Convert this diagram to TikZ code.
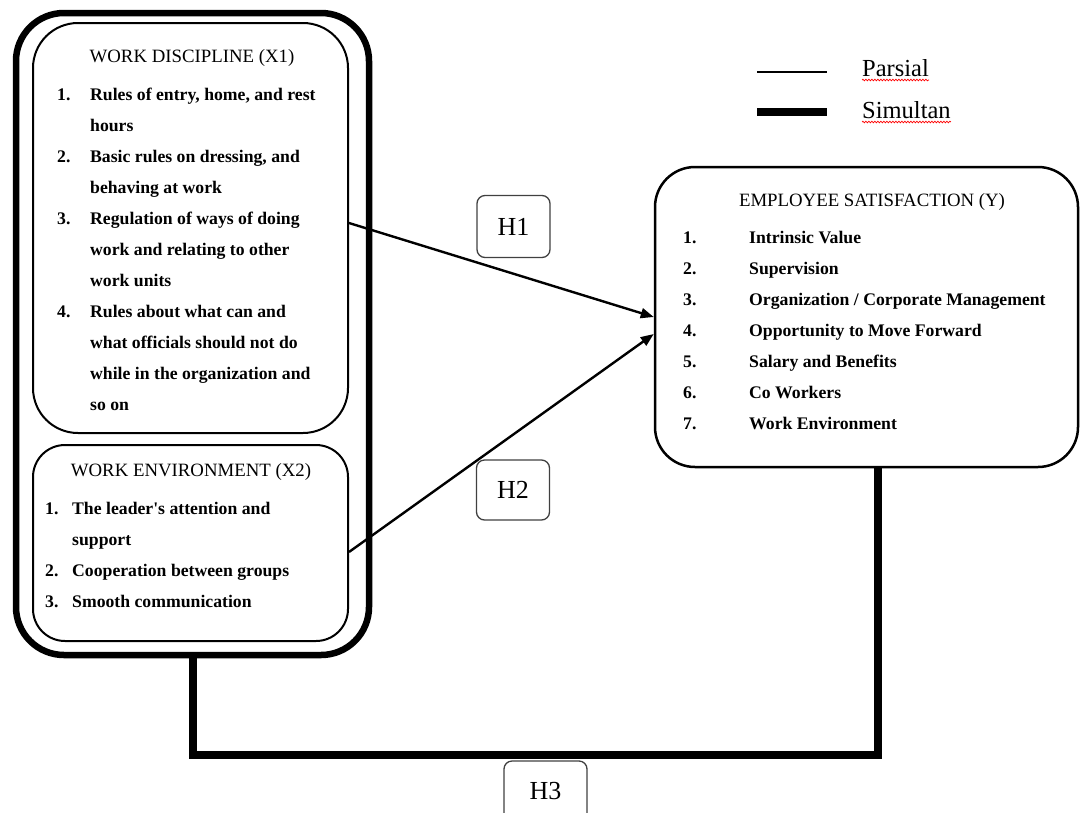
\documentclass[tikz,border=0pt]{standalone}
\usepackage{fontspec}
\setmainfont{Liberation Serif}
\usetikzlibrary{arrows.meta,decorations.pathmorphing}
\begin{document}
\begin{tikzpicture}[x=1pt, y=-1pt,
    box/.style={draw, rounded corners=#1, line width=2pt},
    lst/.style={inner sep=0, anchor=north west, font=\fontsize{17.7}{31}\selectfont\bfseries},
    ttl/.style={inner sep=0, font=\fontsize{18.8}{22}\selectfont},
    hyp/.style={draw=black!75, rounded corners=8pt, line width=1.3pt, minimum width=73pt, minimum height=62pt, font=\fontsize{26}{30}\selectfont},
    leg/.style={inner sep=0, anchor=base west, font=\fontsize{24.5}{28}\selectfont},
    spell/.style={draw=red, line width=0.7pt, decorate, decoration={snake, amplitude=0.8pt, segment length=3pt}},
    parsial/.style={line width=2.4pt},
    simultan/.style={line width=8pt}]
  \useasboundingbox (0,0) rectangle (1082,812);
  \clip (0,0) rectangle (1082,812);

  % independent variables
  \node[box=48pt, line width=6.5pt, minimum width=353pt, minimum height=642pt] (out) at (192.5,334) {};
  \node[box=45pt, minimum width=315pt, minimum height=410pt] (x1) at (190.5,228) {};
  \node[box=32pt, minimum width=315pt, minimum height=196pt] (x2) at (190.5,543) {};
  \node[ttl] (x1t) at (192,58) {WORK DISCIPLINE (X1)};
  \node[lst] (x1l) at (57,79) {\begin{tabular}{@{}p{33pt}@{}l@{}}
      1. & Rules of entry, home, and rest\\
         & hours\\
      2. & Basic rules on dressing, and\\
         & behaving at work\\
      3. & Regulation of ways of doing\\
         & work and relating to other\\
         & work units\\
      4. & Rules about what can and\\
         & what officials should not do\\
         & while in the organization and\\
         & so on
    \end{tabular}};
  \node[ttl] (x2t) at (191,472) {WORK ENVIRONMENT (X2)};
  \node[lst] (x2l) at (45,493) {\begin{tabular}{@{}p{27pt}@{}l@{}}
      1. & The leader\textquotesingle s attention and\\
         & support\\
      2. & Cooperation between groups\\
      3. & Smooth communication
    \end{tabular}};

  % dependent variable
  \node[box=40pt, line width=2.5pt, minimum width=423pt, minimum height=300pt] (y) at (866.5,317) {};
  \node[ttl] (yt) at (872,202) {EMPLOYEE SATISFACTION (Y)};
  \node[lst] (yl) at (683,222) {\begin{tabular}{@{}p{66pt}@{}l@{}}
      1. & Intrinsic Value\\
      2. & Supervision\\
      3. & Organization / Corporate Management\\
      4. & Opportunity to Move Forward\\
      5. & Salary and Benefits\\
      6. & Co Workers\\
      7. & Work Environment
    \end{tabular}};

  % legend
  \coordinate (p1) at (757,72);
  \coordinate (p2) at (827,72);
  \coordinate (s1) at (757,112);
  \coordinate (s2) at (827,112);
  \draw[parsial] (p1) -- (p2);
  \draw[simultan] (s1) -- (s2);
  \node[leg] (par) at (862,76) {Parsial};
  \node[leg] (sim) at (862,118) {Simultan};
  \path[spell] ([yshift=-4pt]par.base west) -- ([yshift=-4pt]par.base east);
  \path[spell] ([yshift=-4pt]sim.base west) -- ([yshift=-4pt]sim.base east);

  % hypotheses
  \draw[parsial, -{Triangle[length=13pt,width=10pt]}] ([yshift=5pt]x1.east) -- (y.west);
  \draw[parsial, -{Triangle[length=13pt,width=10pt]}] ([yshift=-9pt]x2.east) -- ([yshift=-17pt]y.west);
  \coordinate (h3c) at (545,755);
  \draw[simultan] (out.south) |- (h3c) -| ([xshift=11pt]y.south);
  \node[hyp] (h1) at (513.5,226.5) {H1};
  \node[hyp, minimum height=60pt] (h2) at (513,490) {H2};
  \node[hyp, minimum width=83pt, minimum height=60pt] (h3) at (545.5,791) {H3};
\end{tikzpicture}
\end{document}
